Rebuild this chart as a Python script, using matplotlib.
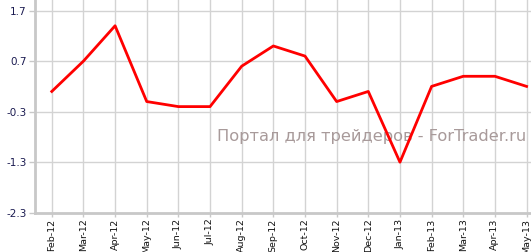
import matplotlib
matplotlib.use('Agg')
import matplotlib.pyplot as plt

months = ['Feb-12', 'Mar-12', 'Apr-12', 'May-12', 'Jun-12', 'Jul-12', 'Aug-12', 'Sep-12',
          'Oct-12', 'Nov-12', 'Dec-12', 'Jan-13', 'Feb-13', 'Mar-13', 'Apr-13', 'May-13']
values = [0.1, 0.7, 1.4, -0.1, -0.2, -0.2, 0.6, 1.0,
          0.8, -0.1, 0.1, -1.3, 0.2, 0.4, 0.4, 0.2]
yticks = [-2.3, -1.3, -0.3, 0.7, 1.7]
watermark = 'Портал для трейдеров - ForTrader.ru'

fig = plt.figure(figsize=(5.31, 2.52), dpi=100)
ax = fig.add_axes([35 / 531, 1 - 212.7 / 252, 496 / 531, 212.7 / 252])

x = list(range(len(months)))
ax.plot(x, values, color='#ff0000', linewidth=2, zorder=3)

ax.set_xlim(-0.53, len(months) - 1 + 0.14)
ax.set_ylim(-2.3, 1.91)
ax.set_xticks(x)
ax.set_xticklabels(months, rotation=90, fontsize=6.8, color='#111111')
ax.set_yticks(yticks)
ax.set_yticklabels([str(v) for v in yticks], fontsize=7.5, color='#1a1a50')
ax.grid(True, color='#d3d3d3', linewidth=1)
ax.set_axisbelow(True)

for side in ['top', 'right']:
    ax.spines[side].set_visible(False)
for side in ['left', 'bottom']:
    ax.spines[side].set_color('#c8c8c8')
    ax.spines[side].set_linewidth(2)
ax.tick_params(axis='x', color='#c8c8c8', length=3, width=1, pad=1.2)
ax.tick_params(axis='y', color='#c8c8c8', length=4, width=1, pad=2)

ax.text(0.99, 0.356, watermark, transform=ax.transAxes, ha='right', va='center',
        fontsize=11.7, color='#a89a9a', zorder=2)

fig.savefig('out.png', dpi=100)
